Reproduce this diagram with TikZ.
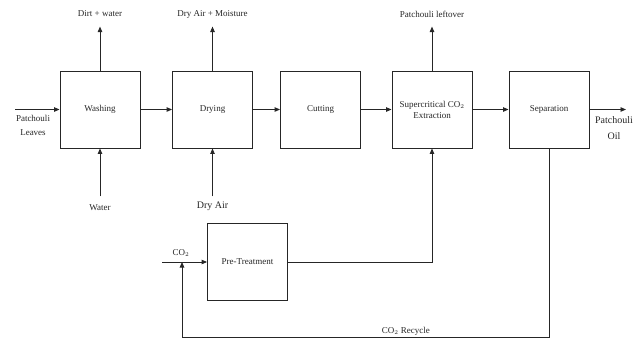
\documentclass[tikz,border=0pt]{standalone}
\usepackage{fontspec}
\setmainfont{Liberation Serif}
\usetikzlibrary{arrows.meta,positioning}
\definecolor{flowink}{HTML}{262626}
\tikzset{every picture/.append style={color=flowink}}

\begin{document}
\begin{tikzpicture}[
  x=1pt, y=-1pt,
  >={Triangle[length=5.5pt,width=4.5pt]},
  every path/.style={line width=0.9pt},
  block/.style={draw, line width=0.9pt,
                minimum height=77pt, minimum width=80pt,
                inner sep=2pt, align=center, font=\fontsize{9}{11}\selectfont},
  lbl/.style={font=\fontsize{9}{14}\selectfont, inner sep=1pt, align=center},
]
\useasboundingbox (0,0) rectangle (638,338);

% --- Process chain (left to right) ---
\node[block] (wash) at (100,109.5) {Washing};
\node[block, right=31.6pt of wash] (dry)  {Drying};
\node[block, right=27.1pt of dry]  (cut)  {Cutting};
\node[block, right=30.6pt of cut]  (extr) {Supercritical CO$_2$\\Extraction};
\node[block, right=36.1pt of extr] (sep)  {Separation};

% --- Feed and product ---
\coordinate (leaves_src) at (15,109.5);
\node[lbl] (leaves) at (33,125) {Patchouli\\Leaves};
\coordinate (oil_tip) at (626,109.5);
\node[lbl, font=\fontsize{10}{16}\selectfont] (oil) at (614,128) {Patchouli\\Oil};

\draw[->] (leaves_src) -- (wash);
\draw[->] (wash) -- (dry);
\draw[->] (dry)  -- (cut);
\draw[->] (cut)  -- (extr);
\draw[->] (extr) -- (sep);
\draw[->] (sep)  -- (oil_tip);

% --- Streams leaving at the top ---
\node[lbl] (dirt)  at (100,14)   {Dirt + water};
\node[lbl] (moist) at (212.5,14) {Dry Air + Moisture};
\node[lbl] (left)  at (432,14)   {Patchouli leftover};
\coordinate (dirt_tip)  at ([yshift=44pt]wash.north);
\coordinate (moist_tip) at ([yshift=44pt]dry.north);
\coordinate (left_tip)  at ([yshift=44pt]extr.north);
\draw[->] (wash.north) -- (dirt_tip);
\draw[->] (dry.north)  -- (moist_tip);
\draw[->] (extr.north) -- (left_tip);

% --- Streams entering from below ---
\coordinate (water_src)  at ([yshift=-48pt]wash.south);
\coordinate (dryair_src) at ([yshift=-48pt]dry.south);
\node[lbl] (water)  at (100,208) {Water};
\node[lbl, font=\fontsize{10}{12}\selectfont] (dryair) at (212.5,206) {Dry Air};
\draw[->] (water_src)  -- (wash.south);
\draw[->] (dryair_src) -- (dry.south);

% --- CO2 pre-treatment and feed to extraction ---
\node[block] (pre) at (247.5,262) {Pre-Treatment};
\coordinate (co2_src) at (162,262);
\node[lbl] (co2) at (181,253) {CO$_2$};
\draw[->] (co2_src) -- (pre.west);
\coordinate (pre_corner) at (extr.south |- pre.east);
\draw[->] (pre.east) -- (pre_corner) -- (extr.south);

% --- CO2 recycle from separation back to the feed ---
\coordinate (rec_bl)  at (182,337);
\coordinate (rec_br)  at (sep.south |- rec_bl);
\coordinate (rec_tip) at (182,262);
\draw[->] (sep.south) -- (rec_br)
          -- node[pos=0.39, above, lbl]{CO$_2$ Recycle} (rec_bl)
          -- (rec_tip);
\end{tikzpicture}
\end{document}
